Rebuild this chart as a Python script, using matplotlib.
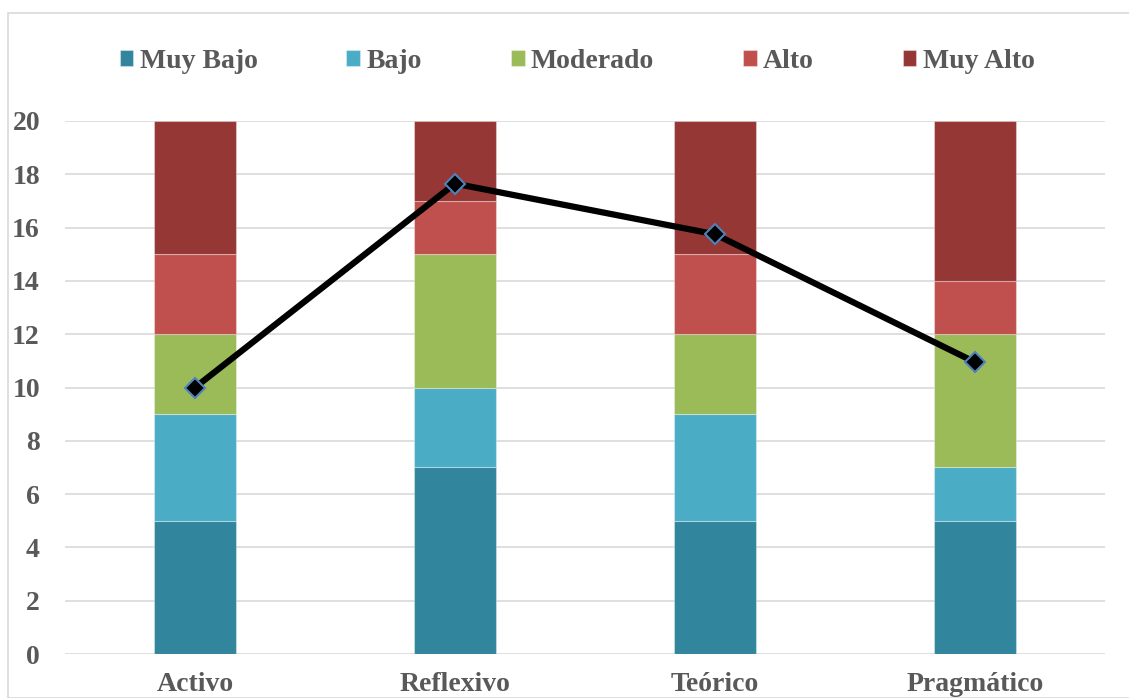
import matplotlib
matplotlib.use("Agg")
import matplotlib.pyplot as plt
from matplotlib.patches import Rectangle
import numpy as np

categories = ["Activo", "Reflexivo", "Teórico", "Pragmático"]
series_names = ["Muy Bajo", "Bajo", "Moderado", "Alto", "Muy Alto"]
muy_bajo = [5, 7, 5, 5]
bajo = [4, 3, 4, 2]
moderado = [3, 5, 3, 5]
alto = [3, 2, 3, 2]
muy_alto = [5, 3, 5, 6]
line_values = [10.0, 17.65, 15.75, 10.95]
yticks = [0, 2, 4, 6, 8, 10, 12, 14, 16, 18, 20]

colors = ["#31859C", "#4BACC6", "#9BBB59", "#C0504D", "#953735"]
text_color = "#595959"
grid_color = "#D9D9D9"

plt.rcParams['font.family'] = ['Liberation Serif', 'DejaVu Serif']
plt.rcParams['font.weight'] = 'bold'

W, H = 1129, 698
fig = plt.figure(figsize=(W / 100, H / 100), dpi=100)
ax = fig.add_axes([65 / W, (H - 654) / H, (1105 - 65) / W, (654 - 121) / H])

x = np.arange(len(categories))
bottom = np.zeros(len(categories))
for name, vals, c in zip(series_names, [muy_bajo, bajo, moderado, alto, muy_alto], colors):
    ax.bar(x, vals, width=0.315, bottom=bottom, color=c, label=name,
           edgecolor=(1, 1, 1, 0.35), linewidth=0.8, zorder=2)
    bottom += np.array(vals)

ax.plot(x, line_values, color="black", linewidth=4.5, marker="D", markersize=10,
        markerfacecolor="black", markeredgecolor="#4F81BD", markeredgewidth=1.5,
        zorder=4)

ax.set_xlim(-0.5, 3.5)
ax.set_ylim(0, 20)
ax.set_yticks(yticks)
ax.set_yticklabels([str(t) for t in yticks])
ax.set_xticks(x)
ax.set_xticklabels(categories)
ax.tick_params(axis='both', length=0, labelsize=20, labelcolor=text_color)
ax.tick_params(axis='y', pad=18)
ax.tick_params(axis='x', pad=13)
for lab in ax.get_xticklabels() + ax.get_yticklabels():
    lab.set_fontweight('bold')

ax.yaxis.grid(True, color=grid_color, linewidth=1.2, zorder=0)
ax.set_axisbelow(True)
for s in ax.spines.values():
    s.set_visible(False)

leg = fig.legend(loc="center", bbox_to_anchor=(577 / W, 1 - 61 / H), ncol=5,
                 frameon=False, handlelength=0.5, handleheight=0.5,
                 handletextpad=0.22, columnspacing=3.2,
                 prop={'weight': 'bold', 'size': 20})
for t in leg.get_texts():
    t.set_color(text_color)

fig.patches.append(Rectangle((8 / W, 0), 2, (H - 13) / H, transform=fig.transFigure,
                             fill=False, edgecolor=grid_color, linewidth=1.2))

fig.savefig("out.png", dpi=100)
